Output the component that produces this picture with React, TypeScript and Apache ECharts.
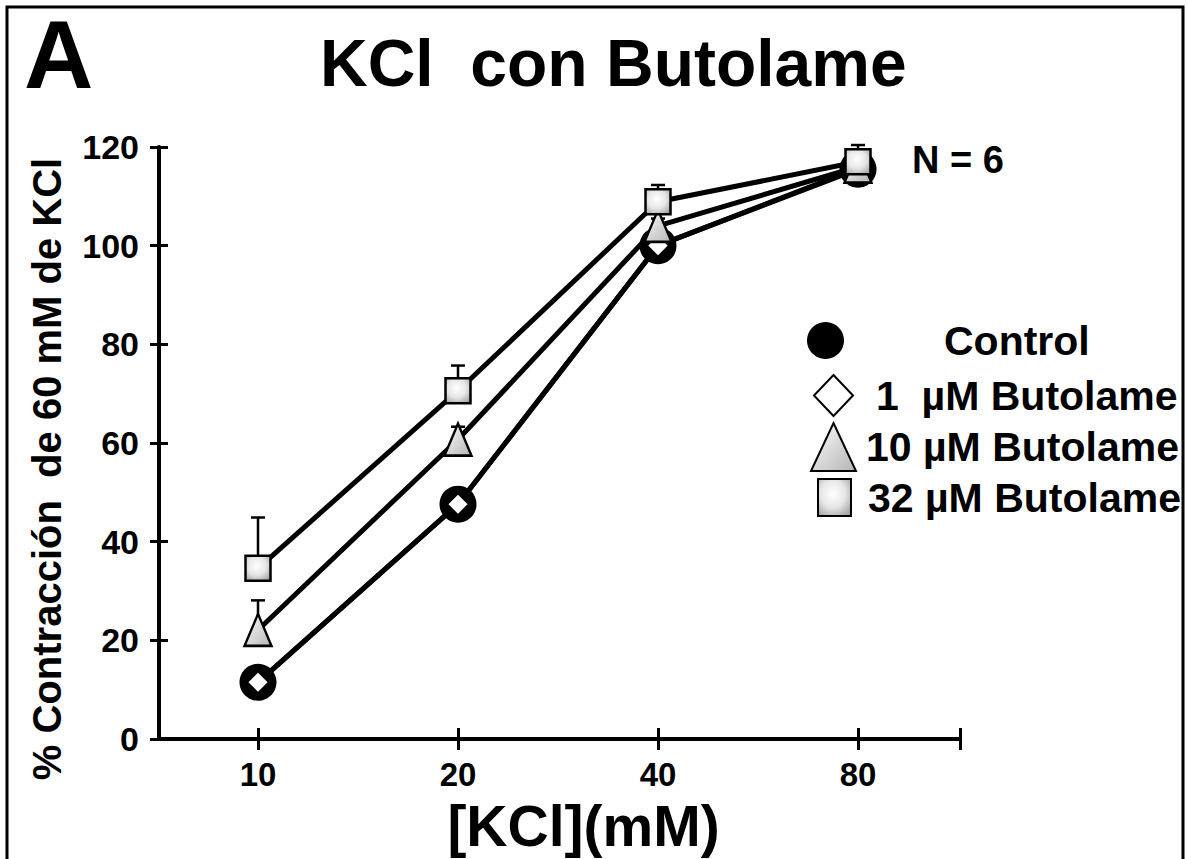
import React, { useEffect, useRef } from "react";
import * as echarts from "echarts";

const kcl = ["10", "20", "40", "80"];
const xIndex = [0, 1, 2, 3];
const control = [11.5, 47.6, 100.0, 115.5];
const butolame1 = [11.5, 47.6, 100.0, 115.7];
const butolame10 = [22.1, 60.7, 104.0, 116.0];
const butolame32 = [34.6, 70.6, 108.9, 117.0];
const err10 = [6.0, 2.6, 1.5, 1.5];
const err32 = [10.3, 5.1, 3.4, 3.4];
const seriesNames = ["Control", "1  µM Butolame", "10 µM Butolame", "32 µM Butolame"];

const FONT = "'Liberation Sans', Arial, sans-serif";

function pts(vals: number[]) {
  return xIndex.map((x, i) => [x, vals[i]]);
}
function errPts(vals: number[], errs: number[]) {
  return xIndex.map((x, i) => [x, vals[i], errs[i]]);
}

export default function App() {
  const ref = useRef<HTMLDivElement>(null);
  useEffect(() => {
    if (!ref.current) return;
    const chart = echarts.init(ref.current, null, { renderer: "svg" });
    const grayFill = new echarts.graphic.RadialGradient(0.45, 0.4, 0.75, [
      { offset: 0, color: "#ffffff" },
      { offset: 0.5, color: "#e6e6e6" },
      { offset: 1, color: "#9a9a9a" },
    ]);
    const triFill = new echarts.graphic.LinearGradient(0, 0, 1, 1, [
      { offset: 0, color: "#ffffff" },
      { offset: 1, color: "#b4b4b4" },
    ]);

    const lineBase = {
      type: "line",
      showSymbol: false,
      symbol: "none",
      z: 2,
      lineStyle: { color: "#000", width: 5 },
      silent: true,
    };

    const errRender = (params: any, api: any) => {
      const x = api.value(0);
      const y = api.value(1);
      const e = api.value(2);
      const p0 = api.coord([x, y]);
      const p1 = api.coord([x, y + e]);
      const style = { stroke: "#000", lineWidth: 2.5 };
      return {
        type: "group",
        children: [
          { type: "line", shape: { x1: p0[0], y1: p0[1], x2: p1[0], y2: p1[1] }, style },
          { type: "line", shape: { x1: p1[0] - 7, y1: p1[1], x2: p1[0] + 7, y2: p1[1] }, style },
        ],
      };
    };

    const legendBase = (name: string, left: number, top: number, w: number, h: number, icon: string, padLeft: number) => ({
      data: [{ name, icon }],
      left,
      top,
      orient: "horizontal",
      padding: 0,
      itemWidth: w,
      itemHeight: h,
      selectedMode: false,
      textStyle: {
        fontSize: 41,
        fontWeight: "bold",
        fontFamily: FONT,
        color: "#000",
        padding: [0, 0, 0, padLeft],
      },
    });

    const yCommon = {
      type: "value",
      min: 0,
      max: 120,
      interval: 20,
      position: "left",
      splitLine: { show: false },
    };
    const xCommon = {
      type: "value",
      min: -0.495,
      max: 3.51,
      position: "bottom",
      splitLine: { show: false },
    };

    chart.setOption({
      animation: false,
      backgroundColor: "#fff",
      title: {
        text: "KCl  con Butolame",
        left: 320,
        top: 30,
        padding: 0,
        textStyle: { fontSize: 66, fontWeight: "bold", fontFamily: FONT, color: "#000" },
      },
      grid: { left: 159, right: 227, top: 147, bottom: 119, containLabel: false },
      legend: [
        legendBase(seriesNames[0], 807, 320, 37, 37, "circle", 95),
        legendBase(seriesNames[1], 813, 374, 39, 41, "diamond", 18),
        legendBase(seriesNames[2], 810, 422, 45, 48, "triangle", 5),
        legendBase(seriesNames[3], 817, 477, 33, 37, "rect", 12),
      ],
      xAxis: [
        {
          ...xCommon,
          axisLine: { show: true, onZero: false, lineStyle: { color: "#000", width: 4 } },
          axisTick: { show: true, length: 11, inside: false, customValues: [0, 1, 2, 3, 3.51], lineStyle: { color: "#000", width: 3 } },
          axisLabel: {
            customValues: xIndex,
            formatter: (v: number) => kcl[Math.round(v)] ?? "",
            fontSize: 33,
            fontWeight: "bold",
            fontFamily: FONT,
            color: "#000",
            margin: 19,
          },
          name: "[KCl](mM)",
          nameLocation: "middle",
          nameGap: 58,
          nameTextStyle: { fontSize: 57, fontWeight: "bold", fontFamily: FONT, color: "#000", padding: [0, 0, 0, 48] },
        },
        {
          ...xCommon,
          axisLine: { show: false, onZero: false },
          axisTick: { show: true, length: 11, inside: true, customValues: [0, 1, 2, 3, 3.51], lineStyle: { color: "#000", width: 3 } },
          axisLabel: { show: false },
        },
      ],
      yAxis: [
        {
          ...yCommon,
          axisLine: { show: true, onZero: false, lineStyle: { color: "#000", width: 4 } },
          axisTick: { show: true, length: 9, inside: false, lineStyle: { color: "#000", width: 3 } },
          axisLabel: { fontSize: 34, fontWeight: "bold", fontFamily: FONT, color: "#000", margin: 20 },
          name: "% Contracción  de 60 mM de KCl",
          nameLocation: "middle",
          nameGap: 92,
          nameRotate: 90,
          nameTextStyle: { fontSize: 40, fontWeight: "bold", fontFamily: FONT, color: "#000", padding: [0, 52, 0, 0] },
        },
        {
          ...yCommon,
          axisLine: { show: false, onZero: false },
          axisTick: { show: true, length: 9, inside: true, lineStyle: { color: "#000", width: 3 } },
          axisLabel: { show: false },
        },
      ],
      series: [
        { ...lineBase, name: "l-control", data: pts(control) },
        { ...lineBase, name: "l-1", data: pts(butolame1) },
        { ...lineBase, name: "l-10", data: pts(butolame10) },
        { ...lineBase, name: "l-32", data: pts(butolame32) },
        {
          type: "custom",
          name: "e-10",
          z: 3,
          silent: true,
          renderItem: errRender,
          encode: { x: 0, y: 1 },
          data: errPts(butolame10, err10),
        },
        {
          type: "custom",
          name: "e-32",
          z: 3,
          silent: true,
          renderItem: errRender,
          encode: { x: 0, y: 1 },
          data: errPts(butolame32, err32),
        },
        {
          type: "scatter",
          name: seriesNames[0],
          z: 4,
          symbol: "circle",
          symbolSize: 37,
          itemStyle: { color: "#000", borderColor: "#000", borderWidth: 0, opacity: 1 },
          data: pts(control),
        },
        {
          type: "scatter",
          name: seriesNames[1],
          z: 5,
          symbol: "diamond",
          symbolSize: 22,
          itemStyle: { color: "#fff", borderColor: "#000", borderWidth: 2, opacity: 1 },
          data: pts(butolame1),
        },
        {
          type: "scatter",
          name: seriesNames[2],
          z: 6,
          symbol: "triangle",
          symbolSize: [27, 32],
          itemStyle: { color: triFill, borderColor: "#000", borderWidth: 2.5, opacity: 1 },
          data: pts(butolame10),
        },
        {
          type: "scatter",
          name: seriesNames[3],
          z: 7,
          symbol: "rect",
          symbolSize: 25,
          itemStyle: { color: grayFill, borderColor: "#000", borderWidth: 2.5, opacity: 1 },
          data: pts(butolame32),
        },
      ],
      graphic: [
        {
          type: "rect",
          shape: { x: 7, y: 7, width: 1176, height: 900 },
          style: { fill: "none", stroke: "#000", lineWidth: 3 },
          silent: true,
        },
        {
          type: "text",
          x: 24,
          y: 6,
          style: { text: "A", fontSize: 96, fontWeight: "bold", fontFamily: FONT, fill: "#000" },
        },
        {
          type: "text",
          x: 912,
          y: 141,
          style: { text: "N = 6", fontSize: 38, fontWeight: "bold", fontFamily: FONT, fill: "#000" },
        },
      ],
    });
    return () => chart.dispose();
  }, []);
  return (
    <div
      ref={ref}
      style={{ position: "absolute", left: 0, top: 0, width: 1187, height: 859, background: "#fff" }}
    />
  );
}
